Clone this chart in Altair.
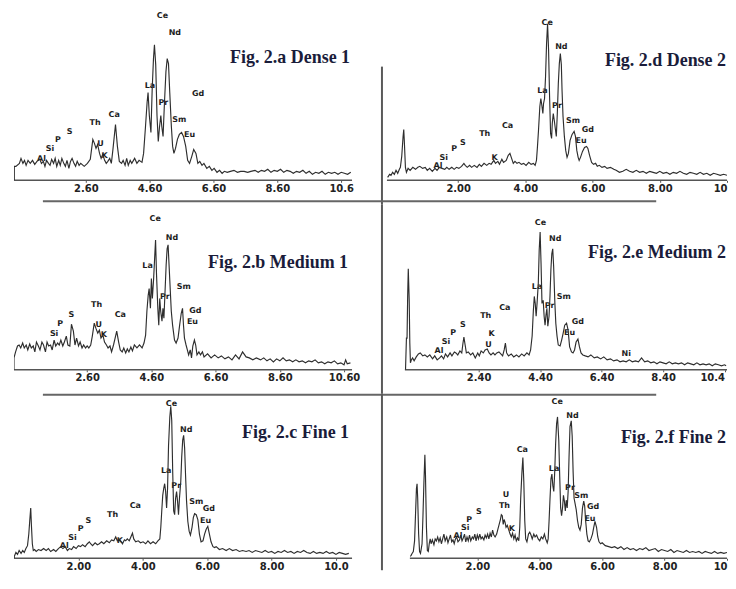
import altair as alt
import pandas as pd

# ---------------- Fig. 2.a Dense 1 ----------------
A_KEV = [0.36, 0.36, 0.41, 0.52, 0.57, 0.63, 0.68, 0.73, 0.79, 0.86,
         0.93, 1.00, 1.07, 1.16, 1.21, 1.27, 1.32, 1.37, 1.43, 1.48,
         1.53, 1.59, 1.64, 1.69, 1.75, 1.80, 1.85, 1.91, 1.96, 2.01,
         2.07, 2.12, 2.17, 2.23, 2.28, 2.33, 2.39, 2.44, 2.55, 2.65,
         2.74, 2.78, 2.82, 2.87, 2.92, 2.97, 3.03, 3.08, 3.13, 3.19,
         3.24, 3.29, 3.35, 3.40, 3.45, 3.53, 3.59, 3.65, 3.72, 3.77,
         3.83, 3.88, 3.93, 3.99, 4.04, 4.13, 4.20, 4.27, 4.36, 4.41,
         4.47, 4.52, 4.55, 4.59, 4.64, 4.68, 4.72, 4.75, 4.79, 4.83,
         4.87, 4.91, 4.95, 4.98, 5.02, 5.06, 5.11, 5.15, 5.19, 5.23,
         5.28, 5.32, 5.36, 5.41, 5.47, 5.53, 5.60, 5.66, 5.73, 5.79,
         5.85, 5.92, 5.98, 6.05, 6.11, 6.17, 6.24, 6.30, 6.39, 6.47,
         6.55, 6.62, 6.71, 6.79, 6.87, 6.94, 7.03, 7.13, 7.24, 7.35,
         7.45, 7.56, 7.67, 7.77,
         7.9, 8.0, 8.1, 8.2, 8.3, 8.4, 8.5, 8.6, 8.7, 8.8, 8.9, 9.0, 9.1, 9.2, 9.3,
         9.4, 9.5, 9.6, 9.7, 9.8, 9.9, 10.0, 10.1, 10.2, 10.3, 10.4, 10.5, 10.6,
         10.7, 10.8, 10.9]
A_CPS = [0, 14, 14, 17, 22, 17, 20, 15, 20, 17,
         20, 16, 19, 21, 17, 19, 14, 20, 17, 15,
         21, 17, 22, 14, 20, 15, 22, 17, 14, 20,
         12, 19, 22, 17, 14, 19, 15, 17, 14, 17,
         21, 31, 41, 37, 32, 36, 27, 22, 26, 20,
         17, 19, 22, 17, 31, 56, 34, 19, 17, 20,
         15, 22, 15, 20, 17, 22, 17, 20, 18, 27,
         54, 78, 88, 65, 48, 92, 122, 136, 116, 65,
         39, 54, 65, 54, 44, 75, 109, 122, 117, 88,
         54, 34, 27, 32, 41, 46, 48, 44, 34, 20,
         17, 24, 31, 27, 17, 19, 15, 17, 12, 14,
         10, 12, 8, 10, 7, 9, 8, 9, 10, 8,
         9, 9, 8, 9,
         10, 8, 10, 9, 11, 8, 10, 9, 11, 8, 10, 9, 7, 9, 8,
         10, 7, 9, 6, 8, 7, 9, 6, 8, 7, 8, 6, 8,
         7, 6, 8]
A_EL = ["Ce", "Nd", "La", "Pr", "Gd", "Sm", "Eu", "Ca", "Th", "U", "K", "S", "P", "Si", "Al"]
A_EL_KEV = [5.00, 5.39, 4.61, 5.03, 6.12, 5.53, 5.85, 3.49, 2.89, 3.06, 3.19, 2.09, 1.73, 1.48, 1.21]
A_EL_CPS = [165, 148, 95, 78, 87, 60, 45, 65, 57, 36, 24, 48, 40, 31, 21]
A_TICKS = [2.6, 4.6, 6.6, 8.6, 10.6]

# ---------------- Fig. 2.d Dense 2 ----------------
D_KEV = [-0.10, -0.04, 0.00, 0.05, 0.10, 0.15, 0.20, 0.25, 0.28, 0.32,
         0.36, 0.38, 0.40, 0.43, 0.46, 0.51, 0.57, 0.65, 0.73, 0.80,
         0.86, 0.94, 1.02, 1.08, 1.15, 1.23, 1.31, 1.37, 1.44, 1.52,
         1.60, 1.66, 1.73, 1.81, 1.88, 1.95, 2.02, 2.10, 2.17, 2.21,
         2.27, 2.34, 2.40, 2.48, 2.56, 2.63, 2.69, 2.77, 2.85, 2.92,
         2.98, 3.06, 3.11, 3.18, 3.23, 3.30, 3.35, 3.43, 3.49, 3.54,
         3.59, 3.64, 3.69, 3.75, 3.81, 3.88, 3.95, 4.02, 4.10, 4.17,
         4.24, 4.29, 4.33, 4.36, 4.39, 4.43, 4.46, 4.49, 4.52, 4.54,
         4.57, 4.60, 4.63, 4.66, 4.69, 4.72, 4.75, 4.78, 4.80, 4.83,
         4.86, 4.89, 4.92, 4.95, 4.98, 5.01, 5.04, 5.07, 5.09, 5.12,
         5.16, 5.20, 5.24, 5.28, 5.33, 5.39, 5.45, 5.49, 5.53, 5.57,
         5.60, 5.64, 5.70, 5.76, 5.82, 5.86, 5.91, 5.97, 6.03, 6.09,
         6.14, 6.20, 6.28, 6.36, 6.43, 6.53, 6.63,
         6.7, 6.8, 6.9, 7.0, 7.1, 7.2, 7.3, 7.4, 7.5, 7.6, 7.7, 7.8, 7.9, 8.0, 8.1,
         8.2, 8.3, 8.4, 8.5, 8.6, 8.7, 8.8, 8.9, 9.0, 9.1, 9.2, 9.3, 9.4, 9.5, 9.6,
         9.7, 9.8, 9.9, 10.0]
D_CPS = [3, 6, 5, 8, 6, 10, 7, 11, 13, 24,
         44, 51, 37, 13, 8, 12, 10, 13, 11, 13,
         14, 12, 13, 10, 12, 9, 12, 10, 13, 12,
         11, 13, 11, 13, 11, 13, 12, 14, 17, 15,
         13, 15, 13, 15, 13, 16, 14, 17, 15, 17,
         16, 20, 17, 19, 16, 21, 18, 20, 25, 27,
         22, 17, 19, 17, 18, 16, 17, 15, 18, 16,
         17, 15, 20, 34, 50, 74, 82, 75, 67, 77,
         82, 104, 137, 157, 131, 84, 47, 42, 57, 67,
         60, 52, 44, 67, 97, 117, 127, 116, 91, 64,
         44, 30, 23, 27, 40, 46, 49, 44, 30, 23,
         20, 23, 29, 33, 34, 32, 25, 18, 16, 17,
         14, 15, 13, 14, 12, 13, 11,
         10, 8, 9, 11, 9, 8, 10, 8, 9, 7, 9, 8, 7, 9, 7,
         8, 6, 8, 7, 9, 7, 6, 8, 7, 6, 8, 6, 7, 5, 7,
         6, 5, 6, 5]
D_EL = ["Ce", "Nd", "La", "Pr", "Sm", "Gd", "Eu", "Ca", "Th", "S", "P", "Si", "Al", "K"]
D_EL_KEV = [4.65, 5.07, 4.51, 4.94, 5.42, 5.86, 5.66, 3.47, 2.79, 2.14, 1.88, 1.57, 1.40, 3.08]
D_EL_CPS = [158, 134, 90, 75, 59, 50, 39, 54, 46, 37, 31, 22, 14, 22]
D_TICKS = [2, 4, 6, 8, 10]

# ---------------- Fig. 2.b Medium 1 ----------------
B_KEV = [0.32, 0.32, 0.37, 0.43, 0.48, 0.53, 0.59, 0.64, 0.70, 0.75,
         0.81, 0.86, 0.92, 0.97, 1.02, 1.08, 1.13, 1.19, 1.24, 1.30,
         1.35, 1.40, 1.46, 1.51, 1.57, 1.62, 1.68, 1.73, 1.78, 1.84,
         1.89, 1.95, 2.00, 2.06, 2.11, 2.17, 2.22, 2.27, 2.33, 2.38,
         2.44, 2.49, 2.55, 2.60, 2.65, 2.71, 2.76, 2.82, 2.87, 2.93,
         2.98, 3.03, 3.09, 3.14, 3.20, 3.25, 3.31, 3.36, 3.42, 3.47,
         3.52, 3.58, 3.63, 3.69, 3.74, 3.80, 3.85, 3.90, 3.96, 4.01,
         4.07, 4.15, 4.23, 4.31, 4.37, 4.42, 4.46, 4.50, 4.53, 4.57,
         4.60, 4.63, 4.67, 4.70, 4.73, 4.76, 4.80, 4.83, 4.86, 4.89,
         4.93, 4.96, 4.99, 5.02, 5.06, 5.09, 5.12, 5.15, 5.19, 5.22,
         5.26, 5.32, 5.37, 5.43, 5.48, 5.53, 5.57, 5.60, 5.63, 5.68,
         5.72, 5.76, 5.81, 5.85, 5.89, 5.94, 5.98, 6.02, 6.08, 6.13,
         6.19, 6.24, 6.35, 6.46, 6.57, 6.68, 6.78, 6.89, 7.00, 7.11,
         7.22, 7.33, 7.44, 7.55, 7.65, 7.76, 7.87,
         8.0, 8.1, 8.2, 8.3, 8.4, 8.5, 8.6, 8.7, 8.8, 8.9, 9.0, 9.1, 9.2, 9.3, 9.4,
         9.5, 9.6, 9.7, 9.8, 9.9, 10.0, 10.1, 10.2, 10.3, 10.4, 10.5, 10.6,
         10.65, 10.7, 10.8]
B_CPS = [0, 12, 18, 24, 25, 22, 27, 22, 25, 20,
         26, 22, 24, 18, 28, 24, 20, 28, 25, 18,
         28, 24, 25, 20, 30, 24, 27, 25, 30, 24,
         28, 34, 25, 24, 46, 39, 25, 32, 24, 28,
         22, 25, 22, 24, 22, 25, 34, 47, 42, 37,
         40, 32, 35, 28, 25, 22, 24, 18, 25, 32,
         39, 28, 20, 18, 22, 17, 21, 18, 23, 19,
         25, 22, 25, 22, 27, 35, 59, 75, 82, 62,
         92, 72, 92, 112, 131, 96, 62, 45, 72, 59,
         49, 62, 52, 75, 106, 122, 126, 106, 79, 59,
         45, 30, 27, 32, 45, 57, 62, 45, 32, 25,
         20, 15, 20, 12, 24, 30, 25, 15, 18, 15,
         18, 13, 16, 12, 15, 12, 14, 11, 13, 10,
         15, 11, 18, 13, 12, 10, 12,
         10, 12, 9, 11, 8, 11, 9, 12, 9, 10, 8, 10, 8, 9, 7,
         9, 8, 10, 7, 8, 6, 8, 7, 9, 6, 7, 5,
         10, 6, 7]
B_EL = ["Ce", "Nd", "La", "Sm", "Pr", "Gd", "Eu", "Th", "Ca", "S", "P", "Si", "U", "K"]
B_EL_KEV = [4.72, 5.24, 4.48, 5.61, 5.02, 5.97, 5.88, 2.89, 3.63, 2.11, 1.76, 1.57, 2.96, 3.12]
B_EL_CPS = [152, 133, 105, 83, 73, 59, 48, 65, 55, 55, 46, 36, 45, 35]
B_TICKS = [2.6, 4.6, 6.6, 8.6, 10.6]

# ---------------- Fig. 2.e Medium 2 ----------------
E_KEV = [0.02, 0.05, 0.07, 0.09, 0.11, 0.14, 0.16, 0.18, 0.21, 0.25,
         0.30, 0.37, 0.44, 0.50, 0.58, 0.65, 0.73, 0.81, 0.90, 0.97,
         1.05, 1.13, 1.19, 1.26, 1.32, 1.39, 1.47, 1.53, 1.61, 1.66,
         1.72, 1.79, 1.85, 1.89, 1.92, 1.96, 2.00, 2.06, 2.14, 2.21,
         2.29, 2.37, 2.42, 2.48, 2.55, 2.61, 2.68, 2.74, 2.80, 2.87,
         2.93, 2.99, 3.06, 3.12, 3.18, 3.23, 3.27, 3.31, 3.37, 3.46,
         3.54, 3.63, 3.71, 3.80, 3.88, 3.97, 4.04, 4.09, 4.14, 4.18,
         4.21, 4.24, 4.27, 4.30, 4.34, 4.37, 4.40, 4.43, 4.46, 4.50,
         4.53, 4.56, 4.59, 4.62, 4.65, 4.69, 4.72, 4.75, 4.78, 4.81,
         4.84, 4.88, 4.91, 4.95, 4.99, 5.05, 5.10, 5.15, 5.20, 5.26,
         5.31, 5.36, 5.42, 5.47, 5.52, 5.57, 5.63, 5.68, 5.73, 5.79,
         5.87, 5.96, 6.05, 6.16, 6.26, 6.37, 6.47, 6.58, 6.69, 6.79,
         6.9, 7.0, 7.1, 7.2, 7.3, 7.4, 7.5, 7.6, 7.7, 7.8, 7.9, 8.0, 8.1, 8.2, 8.3,
         8.4, 8.5, 8.6, 8.7, 8.8, 8.9, 9.0, 9.1, 9.2, 9.3, 9.4, 9.5, 9.6, 9.7, 9.8,
         9.9, 10.0, 10.1, 10.2, 10.3, 10.4, 10.45]
E_CPS = [0, 32, 32, 74, 102, 70, 27, 7, 10, 12,
         9, 13, 16, 17, 14, 15, 13, 15, 11, 14,
         10, 12, 14, 11, 16, 13, 17, 14, 18, 17,
         15, 19, 17, 27, 33, 25, 17, 18, 15, 17,
         12, 17, 14, 19, 17, 20, 21, 17, 15, 17,
         15, 17, 18, 16, 14, 20, 27, 17, 14, 16,
         13, 15, 13, 16, 14, 17, 15, 20, 34, 60,
         74, 67, 54, 67, 87, 121, 139, 107, 67, 70,
         54, 45, 55, 62, 44, 54, 74, 101, 117, 122,
         104, 67, 47, 34, 25, 24, 30, 37, 45, 47,
         40, 23, 18, 17, 20, 28, 31, 23, 17, 15,
         14, 13, 15, 12, 13, 11, 13, 10, 11, 9,
         10, 8, 9, 8, 10, 8, 9, 8, 12, 8, 9, 7, 8, 6, 8,
         7, 6, 8, 6, 7, 6, 7, 5, 7, 6, 5, 7, 5, 6, 5,
         6, 4, 6, 5, 4, 5, 4]
E_EL = ["Ce", "Nd", "La", "Pr", "Sm", "Gd", "Eu", "Ca", "Th", "K", "U", "S", "P", "Si", "Al", "Ni"]
E_EL_KEV = [4.41, 4.89, 4.30, 4.71, 5.17, 5.63, 5.36, 3.25, 2.63, 2.82, 2.72, 1.89, 1.57, 1.34, 1.11, 7.2]
E_EL_CPS = [148, 132, 84, 64, 73, 48, 37, 62, 54, 36, 25, 45, 37, 28, 19, 16]
E_TICKS = [2.4, 4.4, 6.4, 8.4, 10.4]

# ---------------- Fig. 2.c Fine 1 ----------------
C_KEV = [0.01, 0.01, 0.06, 0.11, 0.16, 0.22, 0.27, 0.32, 0.37, 0.42,
         0.46, 0.49, 0.52, 0.54, 0.57, 0.60, 0.64, 0.69, 0.76, 0.84,
         0.92, 1.00, 1.07, 1.14, 1.23, 1.30, 1.38, 1.45, 1.52, 1.59,
         1.66, 1.72, 1.79, 1.85, 1.93, 2.00, 2.07, 2.13, 2.21, 2.28,
         2.34, 2.38, 2.44, 2.52, 2.59, 2.65, 2.72, 2.79, 2.88, 2.96,
         3.03, 3.10, 3.16, 3.21, 3.26, 3.31, 3.37, 3.43, 3.47, 3.52,
         3.58, 3.63, 3.68, 3.72, 3.78, 3.86, 3.93, 4.01, 4.09, 4.16,
         4.24, 4.32, 4.40, 4.47, 4.53, 4.56, 4.59, 4.62, 4.65, 4.68,
         4.71, 4.74, 4.77, 4.80, 4.84, 4.87, 4.90, 4.93, 4.96, 4.99,
         5.02, 5.05, 5.08, 5.11, 5.14, 5.18, 5.21, 5.24, 5.27, 5.30,
         5.33, 5.36, 5.40, 5.44, 5.48, 5.53, 5.57, 5.61, 5.66, 5.71,
         5.76, 5.81, 5.87, 5.92, 5.97, 6.02, 6.07, 6.12, 6.18, 6.23,
         6.28, 6.38, 6.48, 6.59, 6.69, 6.79, 6.90, 7.00, 7.10, 7.21,
         7.3, 7.4, 7.5, 7.6, 7.7, 7.8, 7.9, 8.0, 8.1, 8.2, 8.3, 8.4, 8.5, 8.6, 8.7,
         8.8, 8.9, 9.0, 9.1, 9.2, 9.3, 9.4, 9.5, 9.6, 9.7, 9.8, 9.9, 10.0, 10.1,
         10.2, 10.3, 10.4]
C_CPS = [0, 2, 6, 4, 8, 5, 8, 6, 10, 13,
         25, 39, 52, 35, 15, 8, 9, 7, 9, 8,
         10, 8, 10, 7, 9, 7, 10, 12, 10, 12,
         8, 10, 9, 12, 10, 13, 12, 14, 12, 15,
         17, 15, 13, 16, 14, 15, 17, 15, 18, 16,
         19, 18, 22, 18, 20, 18, 15, 19, 18, 20,
         18, 22, 26, 20, 17, 18, 16, 17, 15, 18,
         15, 17, 15, 18, 20, 32, 49, 65, 72, 77,
         69, 52, 72, 116, 146, 157, 142, 89, 49, 45,
         62, 69, 59, 45, 62, 79, 105, 122, 127, 114,
         85, 59, 38, 28, 24, 32, 42, 46, 45, 40,
         25, 17, 18, 25, 30, 33, 25, 17, 12, 11,
         12, 9, 10, 8, 10, 8, 9, 7, 8, 7,
         8, 6, 8, 7, 6, 8, 6, 7, 5, 7, 6, 8, 6, 7, 5,
         7, 6, 8, 6, 5, 7, 5, 6, 5, 7, 5, 6, 4, 6,
         5, 4, 5]
C_EL = ["Ce", "Nd", "La", "Pr", "Sm", "Gd", "Eu", "Ca", "Th", "S", "P", "Si", "Al", "K"]
C_EL_KEV = [4.89, 5.35, 4.73, 5.04, 5.66, 6.05, 5.95, 3.77, 3.06, 2.31, 2.07, 1.82, 1.56, 3.29]
C_EL_CPS = [159, 133, 90, 75, 58, 51, 39, 54, 45, 38, 30, 21, 13, 18]
C_TICKS = [2, 4, 6, 8, 10]

# ---------------- Fig. 2.f Fine 2 ----------------
F_KEV = [-0.15, -0.12, -0.09, -0.05, -0.01, 0.02, 0.05, 0.07, 0.09, 0.12,
         0.15, 0.18, 0.23, 0.26, 0.29, 0.32, 0.34, 0.37, 0.40, 0.43,
         0.46, 0.49, 0.52, 0.56, 0.61, 0.65, 0.69, 0.73, 0.77, 0.81,
         0.85, 0.89, 0.93, 0.97, 1.02, 1.06, 1.10, 1.14, 1.18, 1.22,
         1.26, 1.30, 1.34, 1.38, 1.43, 1.47, 1.51, 1.55, 1.59, 1.63,
         1.67, 1.71, 1.75, 1.79, 1.84, 1.88, 1.92, 1.96, 2.00, 2.04,
         2.08, 2.12, 2.16, 2.21, 2.25, 2.29, 2.33, 2.37, 2.41, 2.45,
         2.49, 2.53, 2.57, 2.62, 2.66, 2.70, 2.74, 2.77, 2.80, 2.83,
         2.86, 2.89, 2.92, 2.96, 3.01, 3.05, 3.09, 3.13, 3.17, 3.21,
         3.25, 3.29, 3.33, 3.36, 3.39, 3.43, 3.46, 3.49, 3.52, 3.55,
         3.59, 3.64, 3.68, 3.72, 3.76, 3.81, 3.85, 3.90, 3.95, 4.00,
         4.05, 4.10, 4.15, 4.19, 4.24, 4.27, 4.30, 4.33, 4.36, 4.39,
         4.42, 4.45, 4.48, 4.51, 4.54, 4.57, 4.61, 4.64, 4.67, 4.70,
         4.73, 4.76, 4.79, 4.82, 4.85, 4.88, 4.91, 4.94, 4.97, 5.01,
         5.04, 5.07, 5.10, 5.13, 5.17, 5.21, 5.25, 5.29, 5.33, 5.37,
         5.41, 5.44, 5.47, 5.51, 5.55, 5.59, 5.64, 5.69, 5.73, 5.77,
         5.82, 5.86, 5.90, 5.95, 6.00, 6.10, 6.21, 6.31,
         6.4, 6.5, 6.6, 6.7, 6.8, 6.9, 7.0, 7.1, 7.2, 7.3, 7.4, 7.5, 7.6, 7.7, 7.8,
         7.9, 8.0, 8.1, 8.2, 8.3, 8.4, 8.5, 8.6, 8.7, 8.8, 8.9, 9.0, 9.1, 9.2, 9.3,
         9.4, 9.5, 9.6, 9.7, 9.8, 9.9, 10.0]
F_CPS = [2, 3, 5, 7, 18, 45, 72, 77, 62, 25,
         7, 5, 15, 45, 79, 107, 85, 32, 8, 7,
         15, 20, 15, 19, 14, 20, 18, 22, 17, 21,
         15, 20, 25, 18, 22, 16, 20, 24, 17, 19,
         15, 20, 22, 17, 19, 24, 18, 21, 25, 17,
         22, 18, 24, 18, 22, 20, 25, 18, 24, 20,
         25, 20, 22, 19, 24, 21, 25, 20, 26, 22,
         29, 24, 22, 25, 30, 35, 40, 45, 44, 35,
         40, 37, 32, 34, 29, 25, 22, 26, 20, 24,
         18, 21, 18, 32, 62, 89, 104, 79, 39, 20,
         17, 25, 27, 24, 20, 25, 22, 24, 20, 18,
         22, 20, 25, 20, 16, 20, 39, 62, 82, 87,
         75, 69, 89, 119, 139, 146, 122, 85, 52, 44,
         52, 65, 59, 49, 60, 52, 69, 106, 136, 142,
         126, 89, 62, 57, 50, 39, 32, 29, 35, 52,
         59, 54, 39, 25, 18, 17, 20, 25, 32, 38,
         32, 22, 17, 15, 16, 13, 12, 11,
         12, 10, 12, 9, 11, 9, 10, 8, 10, 9, 11, 8, 9, 10, 7,
         9, 8, 7, 9, 6, 8, 7, 6, 8, 6, 7, 6, 7, 5, 7,
         6, 5, 7, 5, 6, 5, 6]
F_EL = ["Ce", "Nd", "Ca", "La", "Pr", "Sm", "Gd", "Eu", "U", "Th", "K", "S", "P", "Si", "Al"]
F_EL_KEV = [4.56, 5.05, 3.44, 4.46, 4.97, 5.33, 5.71, 5.61, 2.92, 2.87, 3.11, 2.05, 1.74, 1.61, 1.38]
F_EL_CPS = [161, 147, 112, 92, 73, 64, 53, 41, 65, 54, 30, 48, 39.5, 31, 23.5]
F_TICKS = [2, 4, 6, 8, 10]

LINE_COLOR = "#2e2e2e"
TITLE_COLOR = "#1a1c3a"
DIV_COLOR = "#5a5a5a"


def vrule(x, y0, y1):
    return alt.Chart(pd.DataFrame({"z": [0]})).mark_rule(
        color=DIV_COLOR, strokeWidth=2).encode(
        x=alt.value(x), y=alt.value(y0), y2=alt.value(y1))


def hrule(x0, x1, y):
    return alt.Chart(pd.DataFrame({"z": [0]})).mark_rule(
        color="#666666", strokeWidth=2).encode(
        x=alt.value(x0), x2=alt.value(x1), y=alt.value(y))


def panel(kev, cps, els, el_kev, el_cps, title, dom, span, ticks, last_txt,
          w, h, ymax, tx, ty, extras, right_last=False):
    n = min(len(kev), len(cps))
    spec = pd.DataFrame({"keV": kev[:n], "cps": cps[:n], "i": list(range(n))})
    lab = pd.DataFrame({"el": els, "keV": el_kev, "cps": el_cps})
    base = pd.DataFrame({"keV": [span[0]], "keV2": [span[1]], "cps": [0]})
    xs = alt.Scale(domain=dom, nice=False, zero=False)
    ys = alt.Scale(domain=[0, ymax], nice=False, zero=True)
    if right_last:
        align = {"condition": {"test": "datum.value > 9.9", "value": "right"},
                 "value": "center"}
    else:
        align = "center"
    ax = alt.Axis(values=ticks, title=None, grid=False, domain=False,
                  labelExpr="datum.value > 9.9 ? '" + last_txt + "' : format(datum.value, '.2f')",
                  tickSize=2, tickColor="#555555", labelPadding=1,
                  labelFont="DejaVu Sans", labelFontWeight="bold", labelFontSize=10,
                  labelColor="#222222", labelOverlap=False, labelAlign=align)
    X = alt.X("keV:Q", scale=xs, axis=ax)
    Y = alt.Y("cps:Q", scale=ys, axis=None)
    baseline = alt.Chart(base).mark_rule(color="#555555", strokeWidth=1.5).encode(
        x=X, x2="keV2:Q", y=Y)
    text = alt.Chart(lab).mark_text(font="DejaVu Sans", fontWeight="bold",
                                    fontSize=8, color="#1e1e1e").encode(
        x=X, y=Y, text="el:N")
    line = alt.Chart(spec).mark_line(color=LINE_COLOR, strokeWidth=1.15, clip=True).encode(
        x=X, y=Y, order="i:Q")
    ttl = alt.Chart(pd.DataFrame({"t": [title]})).mark_text(
        align="right", baseline="middle", font="Liberation Serif", fontWeight="bold",
        fontSize=18, color=TITLE_COLOR).encode(
        x=alt.value(tx), y=alt.value(ty), text="t:N")
    return alt.layer(baseline, text, line, ttl, *extras).properties(width=w, height=h)


WL, WR = 339, 341
H1, H2, H3 = 172, 166, 165

pa = panel(A_KEV, A_CPS, A_EL, A_EL_KEV, A_EL_CPS, "Fig. 2.a Dense 1",
           [0.35, 10.94], [0.35, 10.94], A_TICKS, "10.6", WL, H1, 172, 337, 49, [])
pdn = panel(D_KEV, D_CPS, D_EL, D_EL_KEV, D_EL_CPS, "Fig. 2.d Dense 2",
            [-0.12, 10.0], [-0.12, 10.0], D_TICKS, "10", WR, H1, 172, 340, 52,
            [vrule(-5, 58, 196)], right_last=True)
pb = panel(B_KEV, B_CPS, B_EL, B_EL_KEV, B_EL_CPS, "Fig. 2.b Medium 1",
           [0.32, 10.85], [0.32, 10.85], B_TICKS, "10.60", WL, H2, 167, 335, 59,
           [hrule(29, 644, -3)])
pe = panel(E_KEV, E_CPS, E_EL, E_EL_KEV, E_EL_CPS, "Fig. 2.e Medium 2",
           [-0.584, 10.48], [0.0, 10.48], E_TICKS, "10.4", WR, H2, 167, 340, 49,
           [vrule(-5, 0, 190)], right_last=True)
pc = panel(C_KEV, C_CPS, C_EL, C_EL_KEV, C_EL_CPS, "Fig. 2.c Fine 1",
           [0.0, 10.5], [0.0, 10.5], C_TICKS, "10.0", WL, H3, 170, 336, 39,
           [hrule(29, 644, 1)])
pf = panel(F_KEV, F_CPS, F_EL, F_EL_KEV, F_EL_CPS, "Fig. 2.f Fine 2",
           [-0.895, 10.0], [-0.16, 10.0], F_TICKS, "10", WR, H3, 170, 340, 44,
           [vrule(-5, 0, 177)], right_last=True)

chart = alt.concat(
    pa, pdn, pb, pe, pc, pf, columns=2,
    spacing={"row": 24, "column": 35}, bounds="flush"
).properties(
    padding={"left": 5, "top": 0, "right": 0, "bottom": 0},
    background="white"
).configure_view(stroke=None)

chart.save("out.html", embed_options={"renderer": "svg", "actions": False})
